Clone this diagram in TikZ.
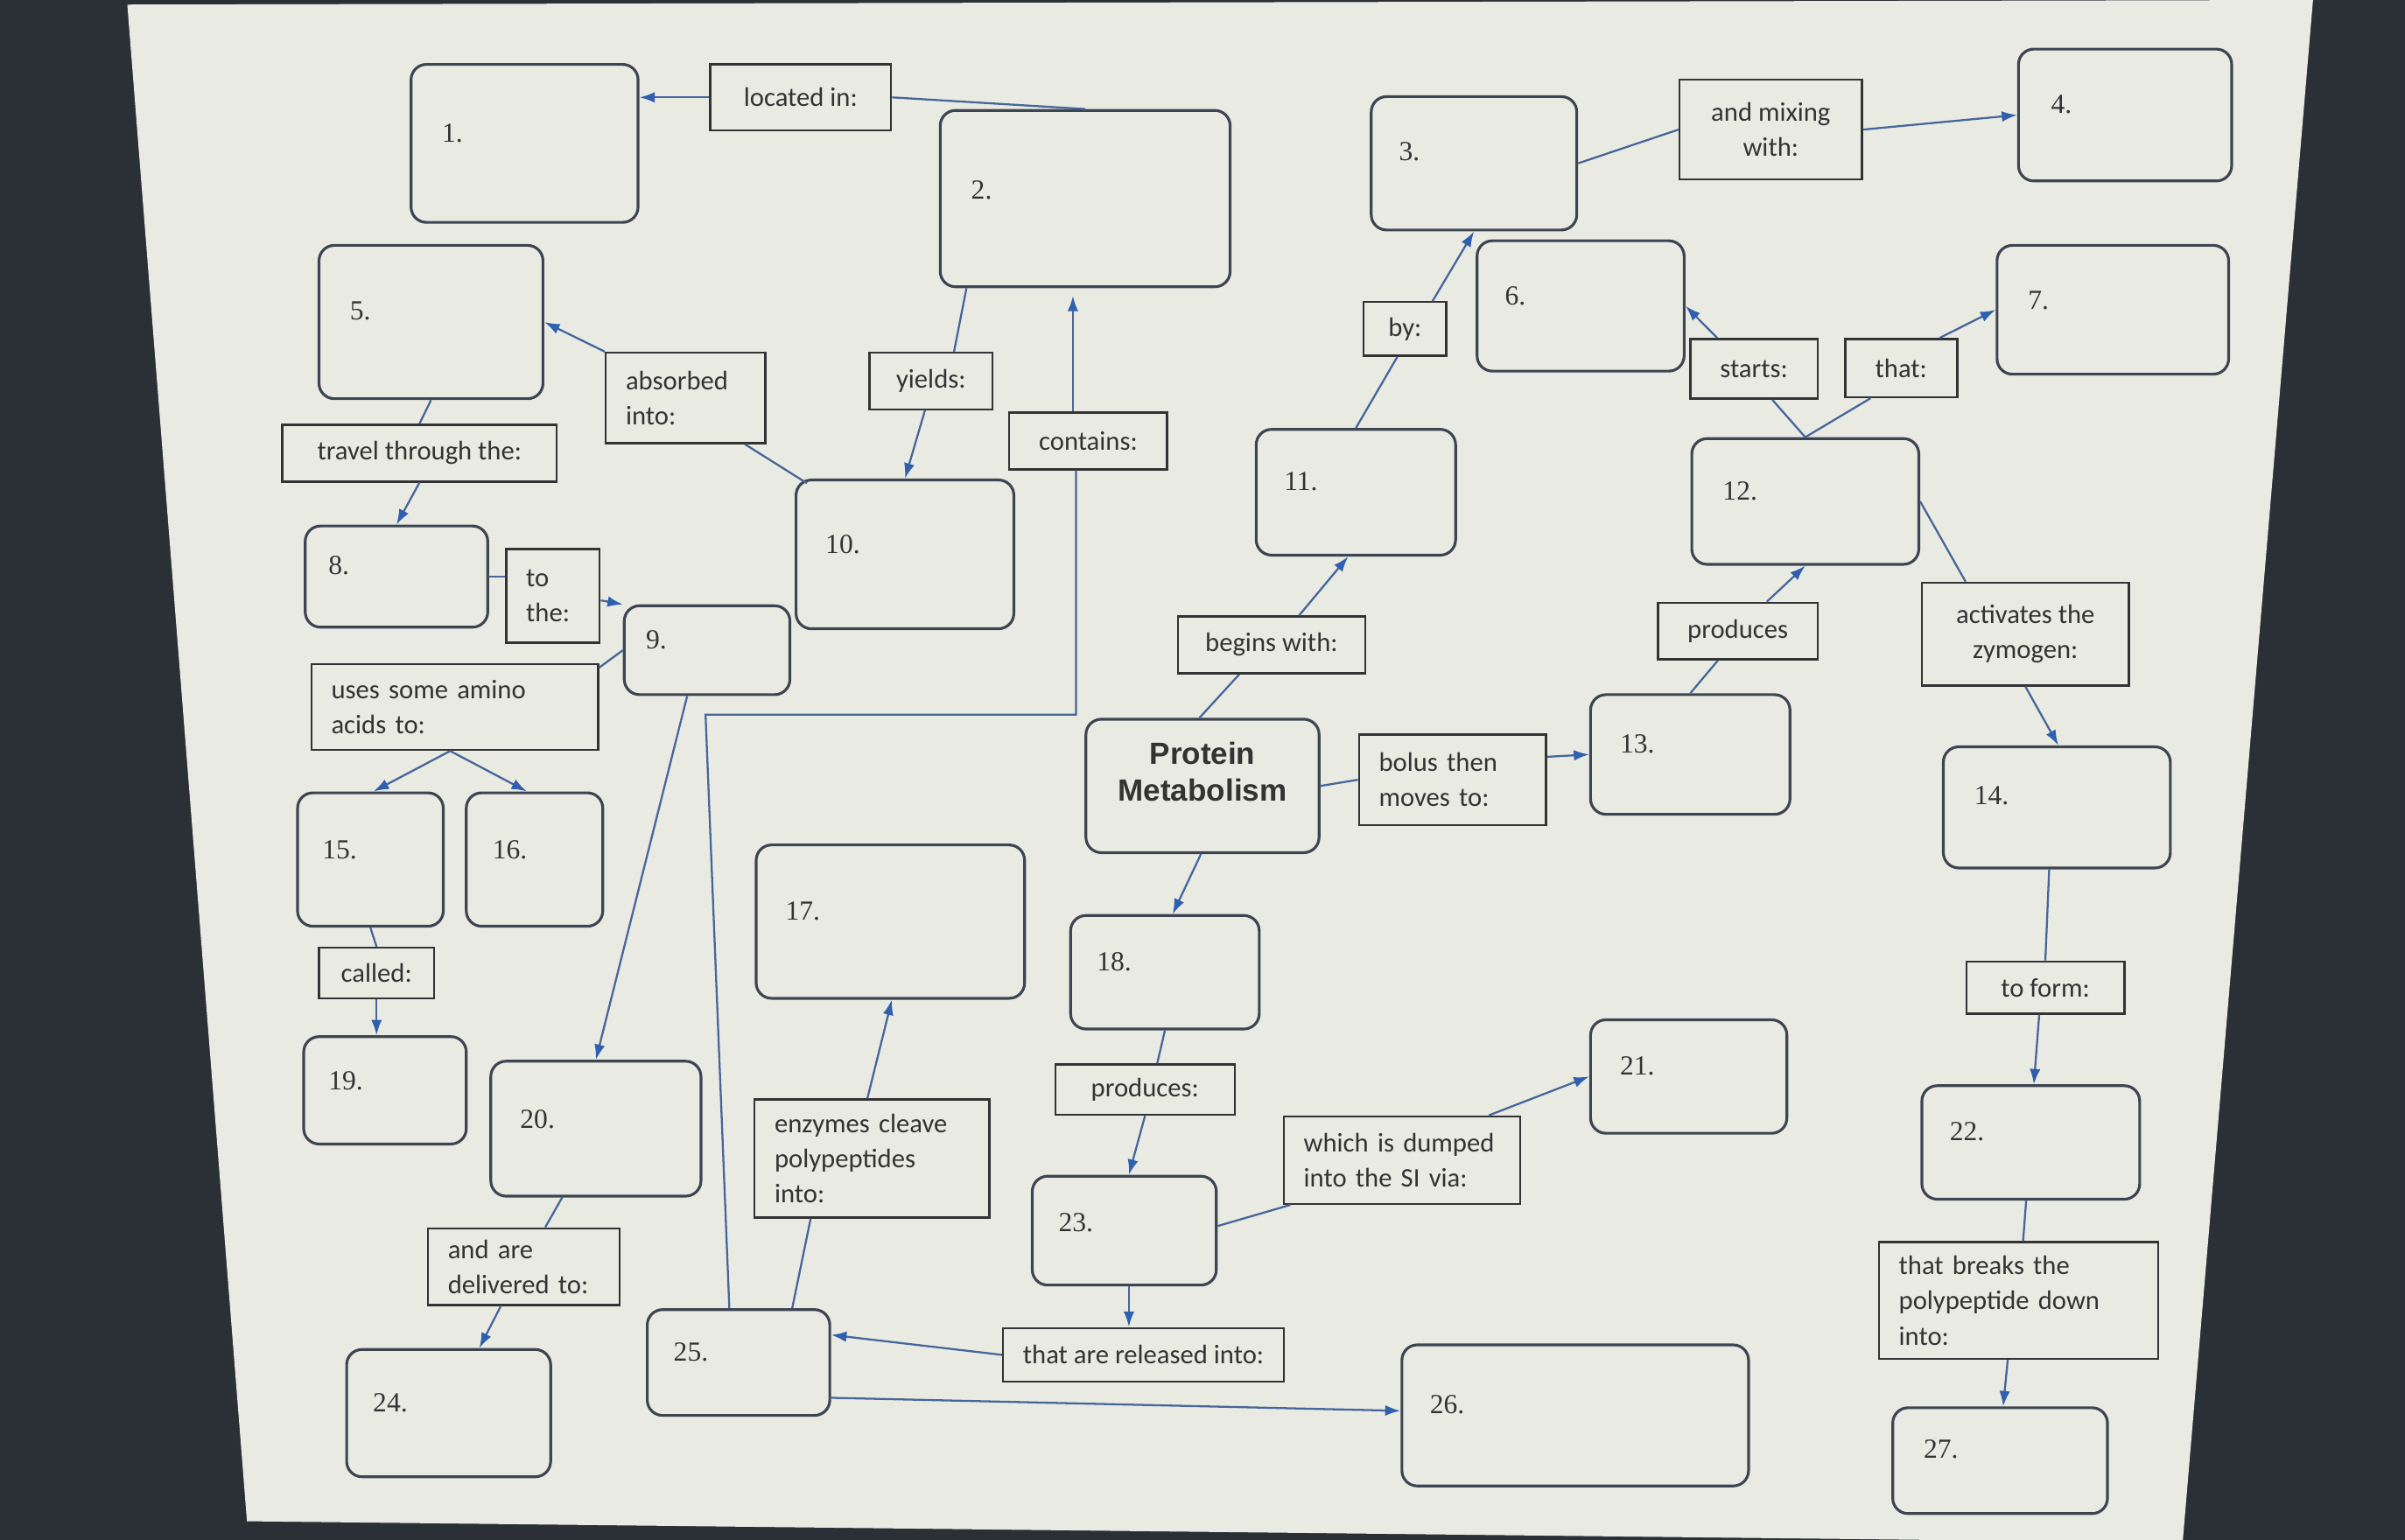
\documentclass[tikz,border=0pt]{standalone}
\usepackage{fontspec}
\setmainfont{Carlito}
\newfontfamily\numfont{Liberation Serif}
\newfontfamily\pmfont{Liberation Sans}
\usetikzlibrary{arrows.meta,calc}
\definecolor{bezel}{HTML}{2B2F36}
\definecolor{paper}{HTML}{E9EBE3}
\definecolor{boxline}{HTML}{3E4552}
\definecolor{conn}{HTML}{46669A}
\definecolor{tip}{HTML}{2F5FAE}
\definecolor{ink}{HTML}{333333}

\newcommand\mkconc[8]{%
 \pgfmathsetmacro\cx{(#2+#4)/2}\pgfmathsetmacro\cy{(#3+#5)/2}%
 \pgfmathsetmacro\cw{#4-#2}\pgfmathsetmacro\ch{#5-#3}%
 \node[cbox, minimum width=\cw pt, minimum height=\ch pt] (#1) at (\cx,\cy) {};%
 \node[num, anchor=west] (#1n) at (#7,#8) {#6};}

\newcommand\mklab[7][]{%
 \pgfmathsetmacro\cx{(#3+#5)/2}\pgfmathsetmacro\cy{(#4+#6)/2}%
 \pgfmathsetmacro\cw{#5-#3}\pgfmathsetmacro\ch{#6-#4}\pgfmathsetmacro\tw{#5-#3-26}%
 \node[lbox, minimum width=\cw pt, minimum height=\ch pt, #1] (#2) at (\cx,\cy) {#7};}

\tikzset{
 cbox/.style={draw=boxline, line width=1.8pt, rounded corners=10pt, rectangle, inner sep=0pt},
 num/.style={font=\numfont\fontsize{18}{20}\selectfont, text=ink, inner sep=0pt},
 lbox/.style={draw=ink, line width=1.4pt, rectangle, inner xsep=13pt, inner ysep=2pt,
   font=\fontsize{17.5}{23}\selectfont, text=ink, align=center},
 lft/.style={align=left, text width=\tw pt},
 ln/.style={draw=conn, line width=1.3pt},
 arr/.style={ln, -{Latex[length=10pt,width=7pt,color=tip]}},
}

\begin{document}
\begin{tikzpicture}[x=1pt,y=-1pt]
\useasboundingbox (0,0) rectangle (1568,1004);
\clip (0,0) rectangle (1568,1004);
\fill[bezel] (0,0) rectangle (1568,1004);
\fill[paper] (83,3) -- (1508,0) -- (1423,1006) -- (161,992) -- cycle;

% concept boxes
\mkconc{b1}{268}{42}{416}{145}{1.}{288}{87}
\mkconc{b2}{613}{72}{802}{187}{2.}{633}{124}
\mkconc{b3}{894}{63}{1028}{150}{3.}{912}{99}
\mkconc{b4}{1316}{32}{1455}{118}{4.}{1337}{68}
\mkconc{b5}{208}{160}{354}{260}{5.}{228}{203}
\mkconc{b6}{963}{157}{1098}{242}{6.}{981}{193}
\mkconc{b7}{1302}{160}{1453}{244}{7.}{1322}{196}
\mkconc{b8}{199}{343}{318}{409}{8.}{214}{369}
\mkconc{b9}{407}{395}{515}{453}{9.}{421}{417}
\mkconc{b10}{519}{313}{661}{410}{10.}{538}{355}
\mkconc{b11}{819}{280}{949}{362}{11.}{837}{314}
\mkconc{b12}{1103}{286}{1251}{368}{12.}{1123}{320}
\mkconc{b13}{1037}{453}{1167}{531}{13.}{1056}{485}
\mkconc{b14}{1267}{487}{1415}{566}{14.}{1287}{519}
\mkconc{b15}{194}{517}{289}{604}{15.}{210}{554}
\mkconc{b16}{304}{517}{393}{604}{16.}{321}{554}
\mkconc{b17}{493}{551}{668}{651}{17.}{512}{594}
\mkconc{b18}{698}{597}{821}{671}{18.}{715}{627}
\mkconc{b19}{198}{676}{304}{746}{19.}{214}{705}
\mkconc{b20}{320}{692}{457}{780}{20.}{339}{730}
\mkconc{b21}{1037}{665}{1165}{739}{21.}{1056}{695}
\mkconc{b22}{1253}{708}{1395}{782}{22.}{1271}{738}
\mkconc{b23}{673}{767}{793}{838}{23.}{690}{797}
\mkconc{b24}{226}{880}{359}{963}{24.}{243}{915}
\mkconc{b25}{422}{854}{541}{923}{25.}{439}{882}
\mkconc{b26}{914}{877}{1140}{969}{26.}{932}{916}
\mkconc{b27}{1234}{918}{1374}{987}{27.}{1254}{945}

\node[cbox, minimum width=152pt, minimum height=87pt, align=center, text=ink, text depth=19pt,
  font=\pmfont\bfseries\fontsize{20}{24}\selectfont] (pm) at (784,512.5) {Protein\\Metabolism};

% linking-phrase boxes
\mklab{locin}{463}{42}{581}{85}{located in:}
\mklab{mix}{1095}{52}{1214}{117}{and mixing\\with:}
\mklab[lft]{absorb}{395}{230}{499}{289}{absorbed\\into:}
\mklab{yields}{567}{230}{647}{267}{yields:}
\mklab{contains}{658}{269}{761}{306}{contains:}
\mklab{by}{889}{197}{943}{232}{by:}
\mklab{starts}{1102}{221}{1185}{260}{starts:}
\mklab{that}{1203}{221}{1276}{259}{that:}
\mklab{trav}{184}{277}{363}{314}{travel through the:}
\mklab[lft]{tothe}{330}{358}{391}{419}{to\\the:}
\mklab{begins}{768}{402}{890}{439}{begins with:}
\mklab{prodA}{1081}{393}{1185}{430}{produces}
\mklab{activ}{1253}{380}{1388}{447}{activates the\\zymogen:}
\mklab[lft]{uses}{203}{433}{390}{489}{uses some amino\\acids to:}
\mklab[lft]{bolus}{886}{479}{1008}{538}{bolus then\\moves to:}
\mklab{called}{208}{618}{283}{651}{called:}
\mklab{toform}{1282}{627}{1385}{661}{to form:}
\mklab[lft]{enz}{492}{717}{645}{794}{enzymes cleave\\polypeptides\\into:}
\mklab{prodB}{688}{694}{805}{727}{produces:}
\mklab[lft]{dumped}{837}{728}{991}{785}{which is dumped\\into the SI via:}
\mklab[lft]{deliv}{279}{801}{404}{851}{and are\\delivered to:}
\mklab[lft]{breaks}{1225}{810}{1407}{886}{that breaks the\\polypeptide down\\into:}
\mklab{released}{654}{866}{837}{901}{that are released into:}

% connectors
\draw[arr] (locin.west) -- (b1.east |- locin.west);
\draw[ln] (locin.east) -- (b2.north);
\draw[ln] (b3.east) -- (mix.west);
\draw[arr] (mix.east) -- (b4.west);
\draw[ln] (b5.south) -- (trav.north);
\draw[arr] (trav.south) -- (b8.north);
\draw[arr] (absorb.north west) -- (b5.east);
\draw[ln] ($(absorb.south east)+(-14,0)$) -- ($(b10.north west)+(8,3)$);
\draw[ln] ($(b2.south west)+(18,0)$) -- ($(yields.north)+(15,0)$);
\draw[arr] ($(yields.south)+(-4,0)$) -- (b10.north);
\draw[arr] ($(contains.north)+(-10,0)$) -- ($(b2.south)+(-8,5)$);
\coordinate (cbend) at (460,466);
\draw[ln] ($(contains.south)+(-8,0)$) |- (cbend) -- ($(b25.north)+(-6,0)$);
\draw[arr] ($(b9.south)+(-13,0)$) -- (b20.north);
\draw[ln] (b8.east) -- (tothe.west |- b8.east);
\draw[arr] ($(tothe.east)+(0,3)$) -- (b9.north west);
\draw[ln] (b9.west) -- ($(uses.north east)+(0,3)$);
\draw[arr] ($(uses.south)+(-3,0)$) -- ($(b15.north)+(2,0)$);
\draw[arr] ($(uses.south)+(-3,0)$) -- ($(b16.north)+(-5,0)$);
\draw[ln] (b15.south) -- (called.north);
\draw[arr] (called.south) -- (called.south |- b19.north);
\draw[ln] ($(b20.south)+(-22,0)$) -- ($(deliv.north)+(14,0)$);
\draw[arr] ($(deliv.south)+(-15,0)$) -- ($(b24.north)+(20,0)$);
\draw[ln] ($(b25.north)+(35,0)$) -- ($(enz.south)+(-40,0)$);
\draw[arr] ($(enz.north)+(-3,0)$) -- ($(b17.south)+(1,0)$);
\draw[ln] ($(pm.north)+(-2,0)$) -- ($(begins.south)+(-21,0)$);
\draw[arr] ($(begins.north)+(18,0)$) -- ($(b11.south)+(-5,0)$);
\draw[ln] (b11.north) -- ($(by.south)+(-5,0)$);
\draw[arr] ($(by.north)+(18,0)$) -- (b3.south);
\draw[ln] (pm.east) -- (bolus.west);
\draw[arr] ($(bolus.east)+(0,-15)$) -- (b13.west);
\draw[ln] (b13.north) -- ($(prodA.south)+(-13,0)$);
\draw[arr] ($(prodA.north)+(19,0)$) -- (b12.south);
\draw[ln] (b12.north) -- ($(starts.south)+(12,0)$);
\draw[arr] ($(starts.north)+(-24,0)$) -- (b6.east);
\draw[ln] (b12.north) -- ($(that.south)+(-20,0)$);
\draw[arr] ($(that.north east)+(-12,0)$) -- (b7.west);
\draw[ln] (b12.east) -- ($(activ.north)+(-39,0)$);
\draw[arr] (activ.south) -- ($(b14.north)+(1,0)$);
\draw[ln] ($(b14.south)+(-5,0)$) -- (toform.north);
\draw[arr] ($(toform.south)+(-4,0)$) -- ($(b22.north)+(2,0)$);
\draw[ln] ($(b22.south)+(-3,0)$) -- ($(breaks.north)+(3,0)$);
\draw[arr] ($(breaks.south)+(-7,0)$) -- ($(b27.north)+(2,0)$);
\draw[arr] ($(pm.south)+(-1,0)$) -- ($(b18.north)+(5,0)$);
\draw[ln] (b18.south) -- ($(prodB.north)+(8,0)$);
\draw[arr] (prodB.south) -- ($(b23.north)+(3,0)$);
\draw[ln] ($(b23.east)+(0,-3)$) -- ($(dumped.south west)+(5,0)$);
\draw[arr] ($(dumped.north east)+(-21,0)$) -- (b21.west);
\draw[arr] ($(b23.south)+(3,0)$) -- ($(released.north)+(-9.5,0)$);
\draw[arr] (released.west) -- ($(b25.east)+(0,-18)$);
\draw[arr] ($(b25.east)+(0,23)$) -- ($(b26.west)+(0,-3)$);
\end{tikzpicture}
\end{document}
